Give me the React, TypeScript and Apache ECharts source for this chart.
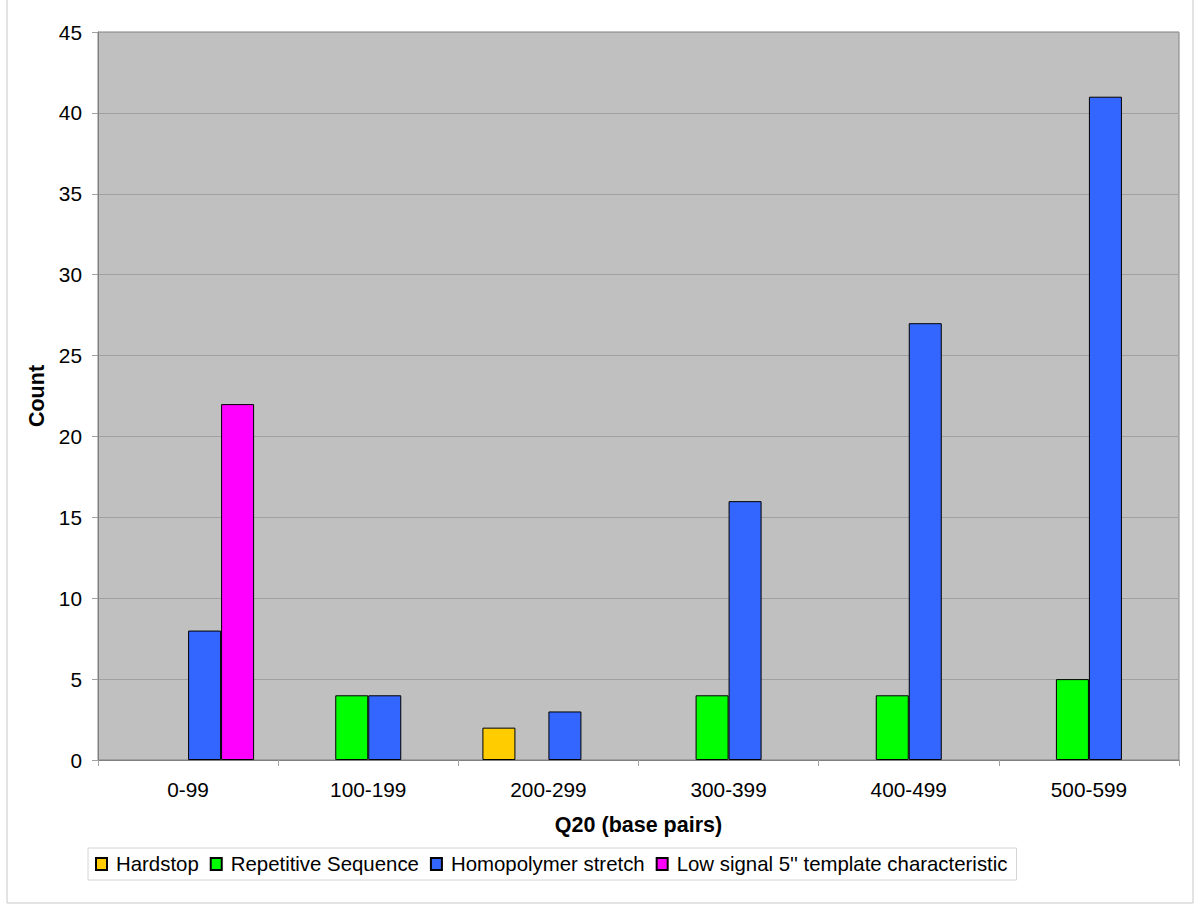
import React, { useEffect, useRef } from "react";
import * as echarts from "echarts";

const categories = ["0-99", "100-199", "200-299", "300-399", "400-499", "500-599"];
const seriesNames = [
  "Hardstop",
  "Repetitive Sequence",
  "Homopolymer stretch",
  "Low signal 5'' template characteristic",
];
const hardstop = [0, 0, 2, 0, 0, 0];
const repetitive = [0, 4, 0, 4, 4, 5];
const homopolymer = [8, 4, 3, 16, 27, 41];
const lowSignal = [22, 0, 0, 0, 0, 0];
const colors = ["#FFCC00", "#00FF00", "#3366FF", "#FF00FF"];
const yTicks = { min: 0, max: 45, interval: 5 };

const FONT = "'Liberation Sans', Arial, sans-serif";

export default function App() {
  const ref = useRef<HTMLDivElement>(null);
  useEffect(() => {
    document.body.style.margin = "0";
    const chart = echarts.init(ref.current!, undefined, { renderer: "svg" });
    const all = [hardstop, repetitive, homopolymer, lowSignal];
    chart.setOption({
      animation: false,
      textStyle: { fontFamily: FONT },
      graphic: [
        {
          type: "rect",
          shape: { x: 7, y: -2, width: 1186, height: 905 },
          style: { fill: "none", stroke: "#c8c8c8", lineWidth: 1 },
          silent: true,
        },
      ],
      grid: {
        left: 98,
        top: 32,
        right: 21,
        bottom: 156,
        show: true,
        backgroundColor: "#C0C0C0",
        borderColor: "#808080",
        borderWidth: 1,
      },
      legend: {
        left: 88,
        top: 848,
        orient: "horizontal",
        itemWidth: 11,
        itemHeight: 12,
        itemGap: 11,
        padding: [6, 9, 6, 7],
        borderColor: "#d4d4d4",
        borderWidth: 1,
        icon: "rect",
        textStyle: { fontSize: 20.4, color: "#000", fontFamily: FONT, padding: [0, 0, 0, 4] },
        data: seriesNames,
      },
      xAxis: {
        type: "category",
        data: categories,
        name: "Q20 (base pairs)",
        nameLocation: "middle",
        nameGap: 54,
        nameTextStyle: { fontSize: 21.5, fontWeight: "bold", color: "#000", fontFamily: FONT },
        axisLine: { lineStyle: { color: "#808080", width: 1 } },
        axisTick: { show: true, length: 6, lineStyle: { color: "#a0a0a0" } },
        axisLabel: { fontSize: 20.8, color: "#000", margin: 19, fontFamily: FONT },
        splitLine: { show: false },
      },
      yAxis: {
        type: "value",
        min: yTicks.min,
        max: yTicks.max,
        interval: yTicks.interval,
        name: "Count",
        nameLocation: "middle",
        nameGap: 48,
        nameTextStyle: { fontSize: 21.5, fontWeight: "bold", color: "#000", fontFamily: FONT },
        axisLine: { show: true, lineStyle: { color: "#808080", width: 1 } },
        axisTick: { show: true, length: 6, lineStyle: { color: "#a0a0a0" } },
        axisLabel: { fontSize: 20.8, color: "#000", margin: 16, fontFamily: FONT },
        splitLine: { show: true, lineStyle: { color: "#a0a0a0", width: 1 } },
      },
      series: seriesNames.map((name, i) => ({
        name,
        type: "bar",
        barWidth: 33,
        barGap: "0%",
        data: all[i].map((v) => (v === 0 ? "-" : v)),
        itemStyle: { color: colors[i], borderColor: "#000", borderWidth: 1 },
      })),
    });
    return () => chart.dispose();
  }, []);
  return <div ref={ref} style={{ width: 1200, height: 916 }} />;
}
